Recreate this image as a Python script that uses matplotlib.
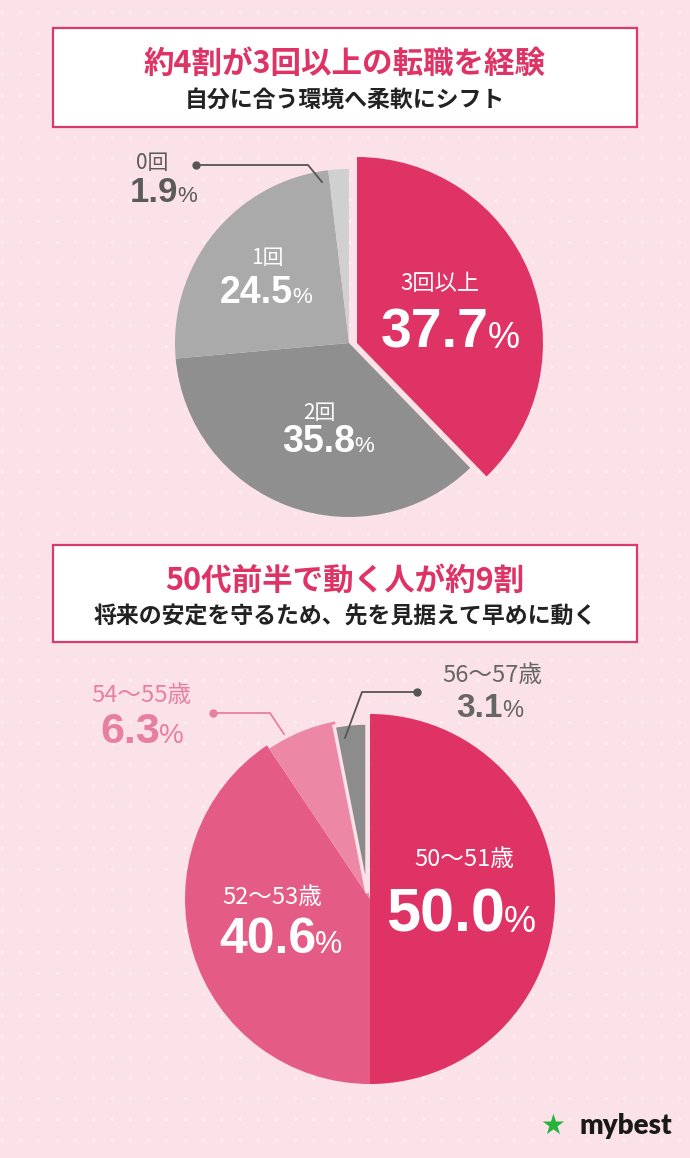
import numpy as np
import matplotlib.pyplot as plt
from matplotlib.patches import Rectangle

plt.rcParams['font.family'] = ['Noto Sans CJK JP', 'DejaVu Sans']
NUM = ['Liberation Sans', 'DejaVu Sans']

W, H = 690, 1158
BG = '#fbe1e8'
RED = '#df3366'

# chart 1
title1 = '約4割が3回以上の転職を経験'
sub1 = '自分に合う環境へ柔軟にシフト'
labels1 = ['3回以上', '2回', '1回', '0回']
values1 = [37.7, 35.8, 24.5, 1.9]
colors1 = [RED, '#8f8f8f', '#aaaaaa', '#d0d0d0']

# chart 2
title2 = '50代前半で動く人が約9割'
sub2 = '将来の安定を守るため、先を見据えて早めに動く'
labels2 = ['50〜51歳', '52〜53歳', '54〜55歳', '56〜57歳']
values2 = [50.0, 40.6, 6.3, 3.1]
colors2 = [RED, '#e45c86', '#ec87a5', '#8c8c8c']

fig = plt.figure(figsize=(W / 100, H / 100), dpi=100)
fig.patch.set_facecolor(BG)
ax = fig.add_axes([0, 0, 1, 1])
ax.set_facecolor(BG)

# dotted background
gx, gy = np.meshgrid(np.arange(1.7, W, 18.3), np.arange(11.7, H, 20.9))
ax.scatter(gx.ravel(), gy.ravel(), s=4, color='white', alpha=0.6, lw=0, zorder=0)


def title_box(y0, y1, title, sub):
    ax.add_patch(Rectangle((53, y0), 584, y1 - y0, facecolor='white',
                           edgecolor='#d93a6c', lw=1.6, zorder=2))
    ax.text(345, y0 + 36, title, ha='center', va='center', fontsize=22,
            fontweight='bold', color=RED, zorder=3)
    ax.text(345, y0 + 72, sub, ha='center', va='center', fontsize=16.5,
            fontweight='bold', color='#222222', zorder=3)


def pct(x, y, value, size, psize, color):
    ax.text(x, y, f'{value:.1f}', ha='right', va='baseline', fontsize=size,
            fontweight='bold', color=color, family=NUM, zorder=5)
    ax.text(x - 1, y, '%', ha='left', va='baseline', fontsize=psize,
            color=color, family=NUM, zorder=5)


title_box(28, 127, title1, sub1)
title_box(545, 642, title2, sub2)

# pie 1
w1, _ = ax.pie(values1, colors=colors1, radius=174, center=(349, 343),
               startangle=-90, counterclock=True, wedgeprops=dict(linewidth=0))
w1[0].set_center((357, 343))
w1[0].set_radius(186)

# pie 2
w2, _ = ax.pie(values2, colors=colors2, radius=185, center=(370, 899),
               startangle=-90, counterclock=True, wedgeprops=dict(linewidth=0))
w2[2].set_radius(181)
w2[3].set_center((367, 893))
w2[3].set_radius(170)
w2[3].set_edgecolor(BG)
w2[3].set_linewidth(2.5)
w2[0].set_zorder(w2[3].get_zorder() + 0.1)

# leader lines
ax.plot([196, 308, 322], [165, 165, 182], color='#555555', lw=1.3, zorder=4)
ax.plot(196, 165, 'o', color='#555555', ms=5, zorder=4)
ax.plot([213, 270, 284], [713, 713, 734], color='#e7809f', lw=1.3, zorder=4)
ax.plot(213, 713, 'o', color='#e7809f', ms=5, zorder=4)
ax.plot([417, 362, 345], [692, 692, 738], color='#555555', lw=1.3, zorder=4)
ax.plot(417, 692, 'o', color='#555555', ms=5, zorder=4)

# labels pie 1
pos1 = [((440, 283), 16, 489, 348, 40, 26, 'white'),
        ((319, 413), 15, 355, 452, 27, 16, 'white'),
        ((267, 258), 15, 293, 303, 27, 16, 'white'),
        ((152, 163), 15, 178, 202, 25, 16, '#5b5b5b')]
for lab, v, (xy, ns, sx, by, vs, ps, c) in zip(labels1, values1, pos1):
    ax.text(xy[0], xy[1], lab, ha='center', va='center', fontsize=ns, color=c, zorder=5)
    pct(sx, by, v, vs, ps, c)

# labels pie 2
pos2 = [((464, 860), 17, 505, 932, 44, 26, 'white'),
        ((272, 898), 17, 316, 953, 36, 22, 'white'),
        ((141, 696), 17, 160, 743, 31, 20, '#e7809f'),
        ((492, 676), 17, 503, 717, 24, 17, '#666666')]
for lab, v, (xy, ns, sx, by, vs, ps, c) in zip(labels2, values2, pos2):
    ax.text(xy[0], xy[1], lab, ha='center', va='center', fontsize=ns, color=c, zorder=5)
    pct(sx, by, v, vs, ps, c)

# logo
ax.text(565, 1126, '★', ha='right', va='center', fontsize=20, color='#26b33b',
        family='DejaVu Sans', zorder=5)
ax.text(672, 1126, 'mybest', ha='right', va='center', fontsize=20,
        fontweight='heavy', color='#1a1a1a', family=['Lato', 'DejaVu Sans'], zorder=5)

ax.set_xlim(0, W)
ax.set_ylim(H, 0)
ax.set_aspect('equal')
ax.axis('off')

fig.savefig('out.png', dpi=100, facecolor=BG)
